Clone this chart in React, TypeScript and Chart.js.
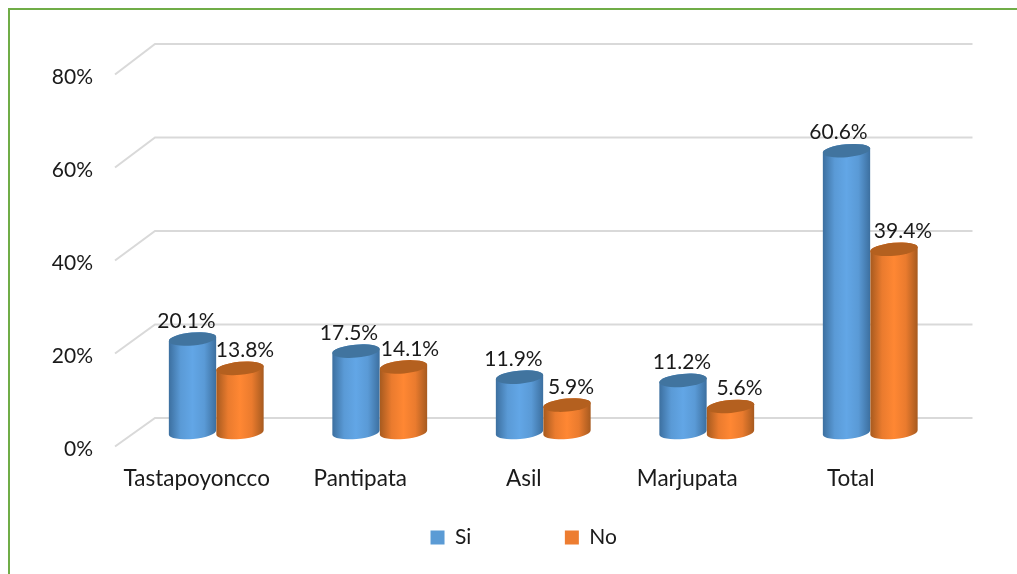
import React, { useEffect, useRef } from "react";
import { Chart, registerables } from "chart.js";

Chart.register(...registerables);

const categories = ["Tastapoyoncco", "Pantipata", "Asil", "Marjupata", "Total"];
const siValues = [20.1, 17.5, 11.9, 11.2, 60.6];
const noValues = [13.8, 14.1, 5.9, 5.6, 39.4];
const seriesNames = ["Si", "No"];
const yTicks = [0, 20, 40, 60, 80];

const FONT = "Lato, Carlito, sans-serif";
const FONT_SIZE = 21;
const CAT_FONT_SIZE = 22.5;
const TEXT = "#1a1a1a";
const GRID = "#d9d9d9";
const GREEN = "#70ad47";
// 3D depth: back wall offset, bars stand half way through the depth
const DEPTH_X = 40;
const BAR_DX = 19.5;
const BAR_DY = -17;
const TILT = -0.09;
const labelDx = [
  [-6, -7, -6, -1, -8],
  [5, 6.5, 4, 9, 9],
];

const palette = [
  { legend: "#5b9bd5", edge: "#3c6f9f", body: "#5a9ad6", mid: "#62a6e6", top: "#41749f" },
  { legend: "#ed7d31", edge: "#a65a1f", body: "#ea7b2e", mid: "#ff8733", top: "#b4601f" },
];

const look3d = {
  id: "look3d",
  beforeLayout(chart: any) {
    const lg = chart.legend;
    if (lg && !lg.__fixed) {
      lg.__fixed = true;
      const fit = lg.fit;
      lg.fit = function () {
        fit.call(this);
        this.height = 30;
      };
    }
  },
  afterLayout(chart: any) {
    const lg = chart.legend;
    if (lg) {
      lg.left = 30.5;
      lg.right = 1017;
      lg.top = 433.5;
      lg.bottom = 574;
    }
  },
  beforeDraw(chart: any) {
    const { ctx, width, height } = chart;
    ctx.save();
    ctx.fillStyle = "#ffffff";
    ctx.fillRect(0, 0, width, height);
    ctx.fillStyle = GREEN;
    ctx.fillRect(8, 8, width - 8, 2);
    ctx.fillRect(8, 8, 2, height - 8);
    ctx.restore();

    const y = chart.scales.y;
    const area = chart.chartArea;
    ctx.save();
    ctx.strokeStyle = GRID;
    ctx.lineWidth = 2;
    yTicks.forEach((t) => {
      const p = y.getPixelForValue(t);
      const front = p - 3;
      const back = 418 + ((p - y.getPixelForValue(0)) * 374) / 372;
      ctx.beginPath();
      ctx.moveTo(area.left, front);
      ctx.lineTo(area.left + DEPTH_X, back);
      ctx.lineTo(area.right + DEPTH_X, back);
      ctx.stroke();
    });
    ctx.restore();
  },
  beforeDatasetsDraw(chart: any) {
    const { ctx } = chart;
    chart.data.datasets.forEach((ds: any, di: number) => {
      const colors = palette[di];
      chart.getDatasetMeta(di).data.forEach((bar: any) => {
        const cx = bar.x + BAR_DX;
        const rx = bar.width / 2;
        const ry = 6.5;
        const yTop = bar.y + BAR_DY;
        const yBase = bar.base + BAR_DY;
        const g = ctx.createLinearGradient(cx - rx, 0, cx + rx, 0);
        g.addColorStop(0, colors.edge);
        g.addColorStop(0.25, colors.body);
        g.addColorStop(0.5, colors.mid);
        g.addColorStop(0.75, colors.body);
        g.addColorStop(1, colors.edge);
        ctx.save();
        ctx.fillStyle = g;
        ctx.beginPath();
        ctx.ellipse(cx, yTop, rx, ry, TILT, Math.PI, 2 * Math.PI);
        ctx.ellipse(cx, yBase, rx, ry, TILT, 0, Math.PI);
        ctx.closePath();
        ctx.fill();
        ctx.fillStyle = colors.top;
        ctx.beginPath();
        ctx.ellipse(cx, yTop, rx, ry, TILT, 0, 2 * Math.PI);
        ctx.fill();
        ctx.restore();
      });
    });
    ctx.save();
    ctx.font = `${FONT_SIZE}px ${FONT}`;
    ctx.fillStyle = TEXT;
    ctx.textAlign = "center";
    ctx.textBaseline = "middle";
    chart.data.datasets.forEach((ds: any, di: number) => {
      chart.getDatasetMeta(di).data.forEach((bar: any, i: number) => {
        const txt = ds.data[i].toFixed(1) + "%";
        ctx.fillText(txt, bar.x + BAR_DX + labelDx[di][i], bar.y + BAR_DY - 18);
      });
    });
    ctx.restore();
    return false;
  },
};

export default function App() {
  const ref = useRef<HTMLCanvasElement>(null);
  useEffect(() => {
    document.body.style.margin = "0";
    document.body.style.background = "#ffffff";
    const chart = new Chart(ref.current!, {
      type: "bar",
      data: {
        labels: categories,
        datasets: [
          { label: seriesNames[0], data: siValues, backgroundColor: palette[0].legend, categoryPercentage: 0.581, barPercentage: 1 },
          { label: seriesNames[1], data: noValues, backgroundColor: palette[1].legend, categoryPercentage: 0.581, barPercentage: 1 },
        ],
      },
      options: {
        responsive: false,
        animation: false,
        layout: { padding: { left: 0, right: 84.5, top: 77.5, bottom: 0 } },
        plugins: {
          tooltip: { enabled: false },
          legend: {
            position: "bottom",
            labels: {
              boxWidth: 14,
              boxHeight: 14,
              padding: 93.5,
              color: TEXT,
              font: { family: FONT, size: 21 },
            },
          },
        },
        scales: {
          x: {
            grid: { display: false },
            border: { display: false },
            ticks: { color: TEXT, padding: 8, maxRotation: 0, autoSkip: false, font: { family: FONT, size: CAT_FONT_SIZE } },
            afterFit: (s: any) => { s.height = 94.5; },
          },
          y: {
            min: 0,
            max: 80,
            grid: { display: false },
            border: { display: false },
            ticks: { stepSize: 20, color: TEXT, padding: 14, font: { family: FONT, size: FONT_SIZE }, callback: (v: any) => v + "%" },
            afterFit: (s: any) => { s.width = 115; },
          },
        },
      },
      plugins: [look3d],
    } as any);
    return () => chart.destroy();
  }, []);
  return <canvas ref={ref} width={1017} height={574} style={{ display: "block" }} />;
}
